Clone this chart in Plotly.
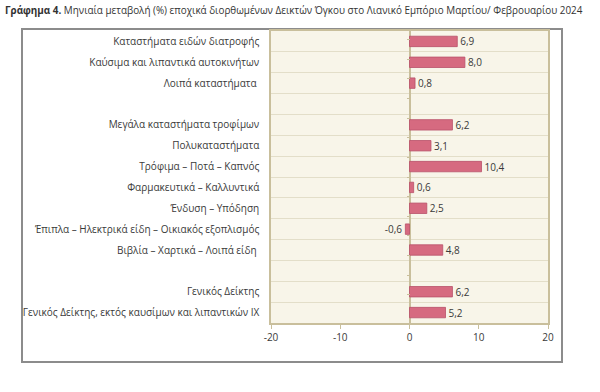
import plotly.graph_objects as go

categories = [
    "Καταστήματα ειδών διατροφής",
    "Καύσιμα και λιπαντικά αυτοκινήτων",
    "Λοιπά καταστήματα ",
    " ",
    "Μεγάλα καταστήματα τροφίμων",
    "Πολυκαταστήματα",
    "Τρόφιμα – Ποτά – Καπνός",
    "Φαρμακευτικά – Καλλυντικά",
    "Ένδυση – Υπόδηση",
    "Έπιπλα – Ηλεκτρικά είδη – Οικιακός εξοπλισμός",
    "Βιβλία – Χαρτικά – Λοιπά είδη ",
    "  ",
    "Γενικός Δείκτης",
    "Γενικός Δείκτης, εκτός καυσίμων και λιπαντικών ΙΧ",
]
values = [6.9, 8.0, 0.8, None, 6.2, 3.1, 10.4, 0.6, 2.5, -0.6, 4.8, None, 6.2, 5.2]
x_ticks = [-20, -10, 0, 10, 20]

labels = ["" if v is None else f"{v:.1f}".replace(".", ",") for v in values]

W, H = 600, 392
FONT = "Open Sans"
TAN = "#C9BF9C"
TXT = "#3A3A3A"
PL, PR, PT, PB = 271, 548, 31, 323
PW, PH = PR - PL, PB - PT

fig = go.Figure(go.Bar(
    y=categories, x=values, orientation="h",
    marker=dict(color="#D66A80", line=dict(color="#B9506A", width=0.8)),
    width=0.5,
    text=labels, textposition="outside", cliponaxis=False,
    constraintext="none", hoverinfo="skip",
    textfont=dict(family=FONT, size=10, color=TXT),
))
# invisible helper trace so tick marks can sit along the zero line
fig.add_trace(go.Scatter(y=categories, x=[0] * len(categories), yaxis="y2",
                         mode="markers", marker=dict(opacity=0), hoverinfo="skip"))

fig.update_layout(
    width=W, height=H,
    margin=dict(l=PL, r=W - PR, t=PT, b=H - PB, autoexpand=False),
    paper_bgcolor="white", plot_bgcolor="#F8F5E9",
    showlegend=False,
    font=dict(family=FONT, size=10, color=TXT),
    yaxis=dict(
        categoryorder="array", categoryarray=categories, autorange="reversed",
        tickson="boundaries", showgrid=True, gridcolor="#E3DEC9", gridwidth=1,
        ticks="", ticklabelstandoff=8,
        showline=True, linecolor=TAN, linewidth=1.5, mirror=True,
        tickfont=dict(family=FONT, size=10, color=TXT),
    ),
    yaxis2=dict(overlaying="y", anchor="free", position=0.5,
                categoryorder="array", categoryarray=categories, autorange="reversed",
                tickson="boundaries", ticks="outside", ticklen=3, tickcolor=TAN,
                tickwidth=1, showticklabels=False, showgrid=False, showline=False,
                zeroline=False),
    xaxis=dict(
        range=[-20, 20], tickvals=x_ticks, ticktext=[str(t) for t in x_ticks],
        showgrid=False, zeroline=True, zerolinecolor=TAN, zerolinewidth=1.5,
        ticks="outside", ticklen=4, tickcolor=TAN,
        showline=True, linecolor=TAN, linewidth=2, mirror=True,
        tickfont=dict(family=FONT, size=10, color=TXT),
    ),
)

# outer frame
fig.add_shape(type="rect", xref="paper", yref="paper",
              x0=(22 - PL) / PW, x1=(562 - PL) / PW,
              y0=(PB - 362) / PH, y1=(PB - 29) / PH,
              line=dict(color="#8C8C8C", width=2), layer="below")

fig.add_annotation(
    xref="paper", yref="paper", x=(3 - PL) / PW, y=(PB - 10) / PH,
    xanchor="left", yanchor="middle", showarrow=False,
    text="<b>Γράφημα 4.</b> Μηνιαία μεταβολή (%) εποχικά διορθωμένων Δεικτών Όγκου στο Λιανικό Εμπόριο Μαρτίου/ Φεβρουαρίου 2024",
    font=dict(family=FONT, size=9.9, color="#333333"),
)

fig.write_html("out.html", config={"displayModeBar": False},
               post_script="document.body.style.margin='0';")
